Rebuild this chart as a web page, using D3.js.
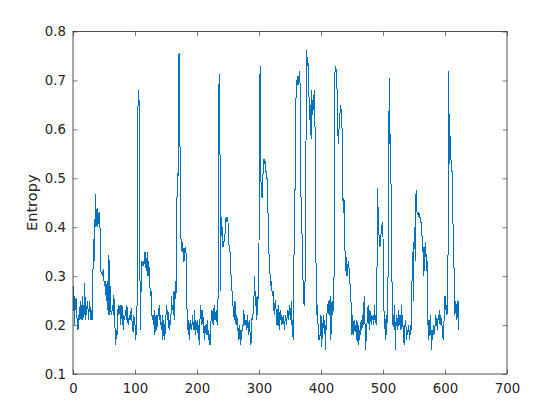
<!DOCTYPE html>
<html>
<head>
<meta charset="utf-8">
<script src="https://cdn.jsdelivr.net/npm/d3@7"></script>
<style>
  body { margin: 0; background: #fff; }
  text { font-family: "DejaVu Sans", sans-serif; fill: #262626; }
</style>
</head>
<body>
<div id="main"></div>
<script>

//===============DATA===================
// entropy per sample (sample n = index + 1)
var entropy = [
  0.28, 0.20, 0.26, 0.23, 0.255, 0.22, 0.21, 0.19, 0.22, 0.21,
  0.23, 0.25, 0.21, 0.22, 0.26, 0.21, 0.24, 0.22, 0.285, 0.21,
  0.23, 0.22, 0.25, 0.24, 0.21, 0.23, 0.25, 0.22, 0.21, 0.23,
  0.21, 0.29, 0.375, 0.33, 0.36, 0.467, 0.40, 0.43, 0.44, 0.40,
  0.42, 0.43, 0.41, 0.39, 0.31, 0.305, 0.31, 0.30, 0.315, 0.29,
  0.28, 0.29, 0.265, 0.25, 0.29, 0.24, 0.22, 0.343, 0.22, 0.28,
  0.23, 0.22, 0.23, 0.24, 0.22, 0.262, 0.21, 0.19, 0.159, 0.19,
  0.18, 0.22, 0.24, 0.22, 0.23, 0.24, 0.20, 0.23, 0.24, 0.22,
  0.19, 0.22, 0.21, 0.22, 0.23, 0.21, 0.24, 0.22, 0.20, 0.21,
  0.22, 0.21, 0.22, 0.235, 0.21, 0.20, 0.185, 0.22, 0.21, 0.20,
  0.17, 0.20, 0.18, 0.42, 0.68, 0.67, 0.65, 0.30, 0.19, 0.30,
  0.33, 0.32, 0.33, 0.32, 0.33, 0.35, 0.34, 0.31, 0.33, 0.35,
  0.30, 0.33, 0.31, 0.28, 0.26, 0.27, 0.22, 0.22, 0.21, 0.20,
  0.23, 0.18, 0.20, 0.22, 0.19, 0.20, 0.22, 0.22, 0.24, 0.21,
  0.22, 0.20, 0.19, 0.22, 0.17, 0.21, 0.20, 0.17, 0.20, 0.22,
  0.24, 0.21, 0.23, 0.22, 0.19, 0.21, 0.20, 0.22, 0.26, 0.23,
  0.24, 0.22, 0.27, 0.21, 0.29, 0.26, 0.30, 0.51, 0.49, 0.53,
  0.757, 0.66, 0.50, 0.38, 0.36, 0.35, 0.37, 0.34, 0.33, 0.35,
  0.36, 0.35, 0.34, 0.22, 0.20, 0.18, 0.21, 0.17, 0.20, 0.21,
  0.19, 0.20, 0.22, 0.19, 0.20, 0.23, 0.18, 0.21, 0.20, 0.19,
  0.21, 0.17, 0.20, 0.16, 0.22, 0.24, 0.22, 0.20, 0.23, 0.21,
  0.19, 0.17, 0.20, 0.19, 0.18, 0.20, 0.21, 0.17, 0.19, 0.17,
  0.16, 0.19, 0.22, 0.23, 0.22, 0.20, 0.23, 0.24, 0.21, 0.22,
  0.23, 0.21, 0.20, 0.26, 0.67, 0.713, 0.58, 0.27, 0.42, 0.41,
  0.38, 0.36, 0.37, 0.37, 0.38, 0.41, 0.42, 0.41, 0.42, 0.41,
  0.37, 0.36, 0.36, 0.32, 0.30, 0.28, 0.26, 0.24, 0.23, 0.21,
  0.25, 0.24, 0.20, 0.22, 0.21, 0.19, 0.17, 0.20, 0.18, 0.16,
  0.19, 0.17, 0.20, 0.19, 0.23, 0.22, 0.20, 0.21, 0.20, 0.19,
  0.22, 0.20, 0.18, 0.21, 0.20, 0.17, 0.16, 0.20, 0.22, 0.21,
  0.25, 0.26, 0.30, 0.24, 0.27, 0.21, 0.26, 0.22, 0.30, 0.36,
  0.68, 0.73, 0.50, 0.47, 0.46, 0.50, 0.52, 0.54, 0.53, 0.535,
  0.52, 0.50, 0.50, 0.45, 0.41, 0.35, 0.32, 0.30, 0.28, 0.29,
  0.27, 0.26, 0.27, 0.23, 0.22, 0.25, 0.25, 0.21, 0.20, 0.22,
  0.24, 0.20, 0.19, 0.23, 0.21, 0.22, 0.20, 0.21, 0.22, 0.21,
  0.19, 0.21, 0.22, 0.20, 0.21, 0.23, 0.21, 0.22, 0.24, 0.22,
  0.21, 0.25, 0.20, 0.21, 0.17, 0.23, 0.46, 0.46, 0.65, 0.67,
  0.70, 0.69, 0.71, 0.69, 0.70, 0.72, 0.56, 0.43, 0.39, 0.38,
  0.29, 0.25, 0.24, 0.27, 0.35, 0.62, 0.762, 0.73, 0.74, 0.68,
  0.66, 0.62, 0.65, 0.58, 0.68, 0.63, 0.66, 0.64, 0.68, 0.67,
  0.48, 0.32, 0.22, 0.24, 0.21, 0.17, 0.18, 0.17, 0.19, 0.22,
  0.155, 0.18, 0.20, 0.22, 0.19, 0.21, 0.15, 0.20, 0.19, 0.24,
  0.24, 0.25, 0.22, 0.24, 0.26, 0.17, 0.24, 0.25, 0.22, 0.24,
  0.30, 0.70, 0.727, 0.73, 0.70, 0.68, 0.60, 0.57, 0.60, 0.62,
  0.64, 0.65, 0.62, 0.60, 0.48, 0.43, 0.46, 0.41, 0.33, 0.31,
  0.34, 0.30, 0.32, 0.33, 0.32, 0.30, 0.28, 0.26, 0.23, 0.18,
  0.22, 0.20, 0.18, 0.21, 0.19, 0.20, 0.17, 0.21, 0.18, 0.16,
  0.20, 0.17, 0.18, 0.20, 0.21, 0.19, 0.22, 0.20, 0.24, 0.26,
  0.20, 0.15, 0.18, 0.20, 0.22, 0.24, 0.21, 0.19, 0.23, 0.22,
  0.20, 0.22, 0.21, 0.22, 0.20, 0.24, 0.21, 0.22, 0.20, 0.23,
  0.48, 0.44, 0.39, 0.38, 0.36, 0.37, 0.39, 0.40, 0.41, 0.38,
  0.28, 0.20, 0.20, 0.17, 0.22, 0.18, 0.23, 0.28, 0.47, 0.705,
  0.57, 0.59, 0.48, 0.355, 0.23, 0.20, 0.22, 0.19, 0.24, 0.15,
  0.20, 0.22, 0.21, 0.19, 0.23, 0.20, 0.22, 0.22, 0.19, 0.24,
  0.21, 0.20, 0.19, 0.16, 0.19, 0.21, 0.20, 0.17, 0.19, 0.18,
  0.20, 0.19, 0.17, 0.20, 0.18, 0.23, 0.305, 0.35, 0.25, 0.37,
  0.40, 0.33, 0.465, 0.475, 0.425, 0.43, 0.42, 0.43, 0.42, 0.42,
  0.41, 0.41, 0.38, 0.35, 0.36, 0.30, 0.36, 0.34, 0.37, 0.31,
  0.33, 0.20, 0.21, 0.17, 0.21, 0.18, 0.22, 0.15, 0.19, 0.17,
  0.20, 0.18, 0.19, 0.20, 0.22, 0.21, 0.20, 0.19, 0.22, 0.21,
  0.23, 0.20, 0.22, 0.21, 0.20, 0.19, 0.17, 0.20, 0.22, 0.26,
  0.23, 0.24, 0.22, 0.23, 0.36, 0.72, 0.53, 0.59, 0.54, 0.536,
  0.52, 0.50, 0.40, 0.36, 0.28, 0.22, 0.25, 0.24, 0.21, 0.22,
  0.25, 0.19
];

var xTicks = [0, 100, 200, 300, 400, 500, 600, 700],
    yTicks = [0.1, 0.2, 0.3, 0.4, 0.5, 0.6, 0.7, 0.8],
    yLabel = "Entropy";

//===============SETUP===================
var W = 560, H = 420,
    plot = {left: 73, right: 507, top: 31.5, bottom: 374},
    tickLen = 4.5;

var svg = d3.select("#main").append("svg")
    .attr("width", W)
    .attr("height", H);

var x = d3.scaleLinear().domain([0, 700]).range([plot.left, plot.right]);
var y = d3.scaleLinear().domain([0.1, 0.8]).range([plot.bottom, plot.top]);

//===============AXES (ticks inside, box on)===================
function styleAxis(g){
  g.select(".domain").remove();
  g.selectAll(".tick line").attr("stroke", "#262626").attr("stroke-width", 0.6);
  g.selectAll(".tick text").style("font-size", "13.3px").attr("fill", "#262626");
}

svg.append("g")
  .attr("transform", "translate(0," + plot.bottom + ")")
  .call(d3.axisBottom(x).tickValues(xTicks).tickSizeInner(-tickLen).tickSizeOuter(0).tickPadding(10))
  .call(styleAxis);

svg.append("g")
  .attr("transform", "translate(0," + plot.top + ")")
  .call(d3.axisTop(x).tickValues(xTicks).tickSizeInner(-tickLen).tickSizeOuter(0).tickFormat(""))
  .call(styleAxis);

svg.append("g")
  .attr("transform", "translate(" + plot.left + ",0)")
  .call(d3.axisLeft(y).tickValues(yTicks).tickSizeInner(-tickLen).tickSizeOuter(0).tickPadding(7).tickFormat(d3.format(".1f")))
  .call(styleAxis);

svg.append("g")
  .attr("transform", "translate(" + plot.right + ",0)")
  .call(d3.axisRight(y).tickValues(yTicks).tickSizeInner(-tickLen).tickSizeOuter(0).tickFormat(""))
  .call(styleAxis);

//===============THE LINE===================
var line = d3.line()
  .x(function(d, i){ return x(i + 1); })
  .y(function(d){ return y(d); });

// matlab draws it thin and un-smoothed
svg.append("path")
  .datum(entropy)
  .attr("d", line)
  .attr("fill", "none")
  .attr("stroke", "#0072BD")
  .attr("stroke-width", 1)
  .attr("shape-rendering", "crispEdges");

// box
svg.append("rect")
  .attr("x", plot.left)
  .attr("y", plot.top)
  .attr("width", plot.right - plot.left)
  .attr("height", plot.bottom - plot.top)
  .attr("fill", "none")
  .attr("stroke", "#262626")
  .attr("stroke-width", 0.8);

svg.append("text")
  .attr("transform", "translate(36.5," + ((plot.top + plot.bottom) / 2) + ") rotate(-90)")
  .attr("text-anchor", "middle")
  .style("font-size", "14.6px")
  .text(yLabel);

</script>
</body>
</html>
